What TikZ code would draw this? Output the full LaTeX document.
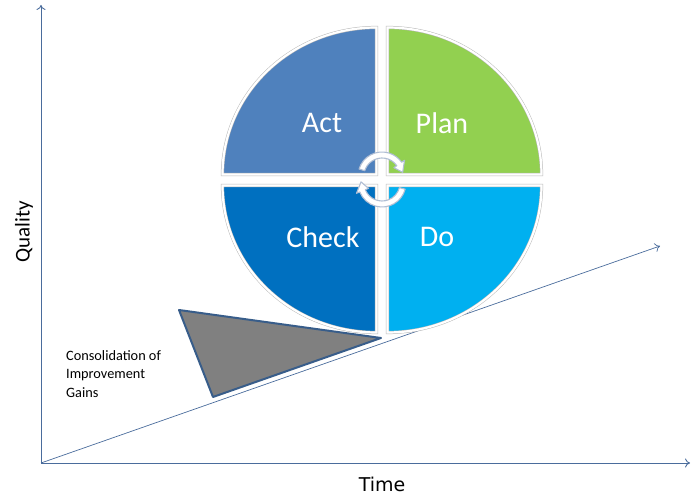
\documentclass[tikz,border=0pt]{standalone}
\usepackage{fontspec}
\setmainfont{Carlito}
\newfontfamily\timefont{DejaVu Sans}
\usetikzlibrary{arrows.meta, positioning}
\definecolor{actcolor}{RGB}{79, 129, 189}
\definecolor{plancolor}{RGB}{146, 208, 80}
\definecolor{checkcolor}{RGB}{0, 112, 192}
\definecolor{docolor}{RGB}{0, 176, 240}
\definecolor{axiscolor}{RGB}{74, 108, 156}
\definecolor{wedgefill}{RGB}{128, 128, 128}
\definecolor{wedgeedge}{RGB}{56, 93, 138}
\definecolor{cyclecolor}{RGB}{176, 190, 212}
\tikzset{
  quad/.style={draw=gray!55, double=white, double distance=2.2pt, line width=0.5pt},
  axis/.style={-{To[length=5pt, width=9pt]}, line width=0.9pt, color=axiscolor},
  cyclearr/.style={fill=white, draw=cyclecolor, line width=1.1pt, line join=round},
  phase/.style={font=\fontsize{30}{34}\selectfont, text=white},
  axislabel/.style={font=\fontsize{21}{25}\selectfont, text=black}
}
\begin{document}
\begin{tikzpicture}[x=1pt, y=1pt]
  \useasboundingbox (0,0) rectangle (699,502);

  % axes
  \coordinate (origin)  at (41,39);
  \coordinate (ytop)    at (41,497);
  \coordinate (xend)    at (690,39);
  \coordinate (trend)   at (660,256);

  \draw[axis] (origin) -- (ytop);
  \draw[axis] (origin) -- (xend);
  \draw[axis, line width=0.7pt] (origin) -- (trend);

  \node[axislabel, rotate=90] (quality) at (24,270) {Quality};
  \node[axislabel, font=\timefont\fontsize{19}{23}\selectfont] (time) at (382,18) {Time};

  % the wedge under the wheel
  \draw[fill=wedgefill, draw=wedgeedge, line width=2pt, line join=round]
    (179,192) -- (213,105) -- (381,164) -- cycle;

  \node[anchor=north west, align=left, inner sep=0pt,
        font=\fontsize{14.3}{18.5}\selectfont] (gains) at (66,152)
    {Consolidation of\\Improvement\\Gains};

  % PDCA wheel
  \fill[quad, fill=actcolor]   (376.5,327.5) -- ++(0,147)
    arc[start angle=90,  end angle=180, x radius=154, y radius=147] -- cycle;
  \fill[quad, fill=plancolor]  (387.5,327.5) -- ++(154,0)
    arc[start angle=0,   end angle=90,  x radius=154, y radius=147] -- cycle;
  \fill[quad, fill=checkcolor] (376.5,316.5) -- ++(-154,0)
    arc[start angle=180, end angle=270, x radius=154, y radius=147] -- cycle;
  \fill[quad, fill=docolor]    (387.5,316.5) -- ++(0,-147)
    arc[start angle=270, end angle=360, x radius=154, y radius=147] -- cycle;

  \node[phase] (act)   at (322,379) {Act};
  \node[phase] (plan)  at (442,379) {Plan};
  \node[phase] (check) at (323,265) {Check};
  \node[phase] (do)    at (437,265) {Do};

  % turning arrows in the middle
  \coordinate (upc) at (382,326);
  \coordinate (loc) at (382,319);
  \draw[cyclearr] ([shift={(163:24)}]upc) arc[start angle=163, end angle=35, radius=24]
    -- ([shift={(35:27.5)}]upc) -- ([shift={(10:21)}]upc) -- ([shift={(35:14.5)}]upc)
    -- ([shift={(35:18)}]upc) arc[start angle=35, end angle=163, radius=18] -- cycle;
  \draw[cyclearr] ([shift={(-15:24)}]loc) arc[start angle=-15, end angle=-158, radius=24]
    -- ([shift={(-158:27.5)}]loc) -- ([shift={(-183:21)}]loc) -- ([shift={(-158:14.5)}]loc)
    -- ([shift={(-158:18)}]loc) arc[start angle=-158, end angle=-15, radius=18] -- cycle;

\end{tikzpicture}
\end{document}
